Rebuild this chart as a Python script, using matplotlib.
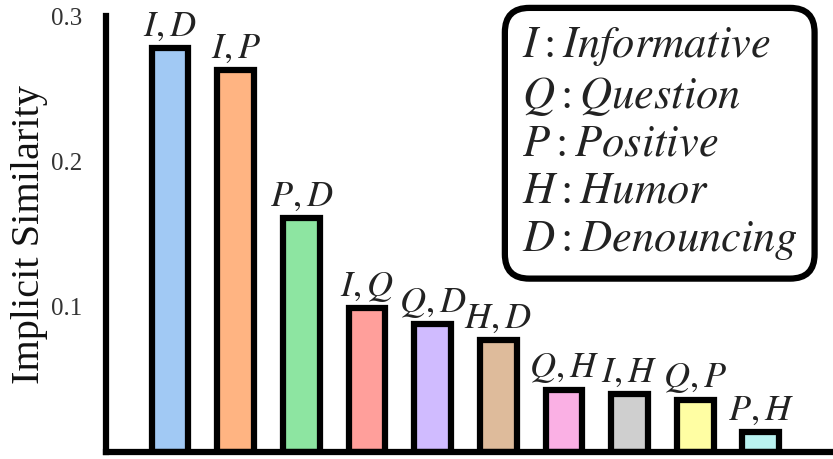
"""Implicit similarity between tweet-category pairs, bar chart."""

import matplotlib
matplotlib.use("Agg")
import matplotlib.pyplot as plt

pairs = ["I,D", "I,P", "P,D", "I,Q", "Q,D", "H,D", "Q,H", "I,H", "Q,P", "P,H"]
similarity = [0.278, 0.263, 0.161, 0.099, 0.088, 0.077, 0.043, 0.040, 0.036, 0.014]
colors = ["#a1c9f4", "#ffb482", "#8de5a1", "#ff9f9b", "#d0bbff",
          "#debb9b", "#fab0e4", "#cfcfcf", "#fffea3", "#b9f2f0"]
legend_keys = ["I", "Q", "P", "H", "D"]
legend_names = ["Informative", "Question", "Positive", "Humor", "Denouncing"]

plt.rcParams["mathtext.fontset"] = "stix"
plt.rcParams["font.family"] = "Liberation Serif"

fig, ax = plt.subplots(figsize=(8.33, 4.59), dpi=100)
xs = range(len(pairs))
ax.bar(xs, similarity, width=0.56, color=colors, edgecolor="black", linewidth=4.5)

for x, v, lab in zip(xs, similarity, pairs):
    ax.text(x, v + 0.003, f"${lab}$", ha="center", va="bottom", fontsize=26, color="#222222")

legend_text = "\n".join(f"${k}:{n}$" for k, n in zip(legend_keys, legend_names))
ax.text(0.572, 0.98, legend_text, transform=ax.transAxes, ha="left", va="top",
        multialignment="left", fontsize=32, color="#222222", linespacing=1.22,
        bbox=dict(boxstyle="round,pad=0.38,rounding_size=0.55", facecolor="white",
                  edgecolor="black", linewidth=4.5))

ax.set_xlim(-0.98, 10.1)
ax.set_ylim(0, 0.3)
ax.set_yticks([0.1, 0.2, 0.3])
ax.set_yticklabels(["0.1", "0.2", "0.3"])
ax.set_xticks([])
ax.tick_params(axis="y", length=0, pad=17, labelsize=18, labelcolor="#333333")
ax.set_ylabel("Implicit Similarity", fontsize=29, color="#111111", labelpad=2)
for side in ["top", "right"]:
    ax.spines[side].set_visible(False)
for side in ["left", "bottom"]:
    ax.spines[side].set_linewidth(4.5)
    ax.spines[side].set_color("black")

fig.subplots_adjust(left=0.127, right=1.0, bottom=0.015, top=0.965)
fig.savefig("out.png", dpi=100)
plt.close(fig)
